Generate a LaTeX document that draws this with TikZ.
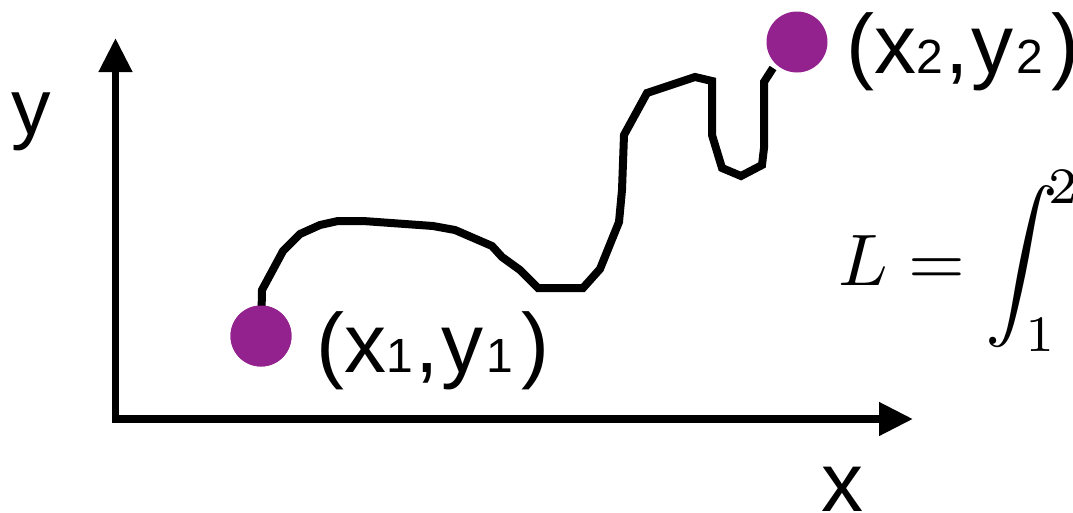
\documentclass[tikz,border=0pt]{standalone}
\usepackage{graphicx}
\usepackage{fontspec}
\setmainfont{Liberation Sans}
\usetikzlibrary{arrows.meta}
\definecolor{dotpurple}{RGB}{147,33,142}
\newcommand{\lbsub}[1]{{\fontsize{48}{48}\selectfont #1}}
\tikzset{
  axis/.style={line width=7.5pt, -{Triangle[length=34pt,width=32pt]}},
  pathline/.style={line width=8pt, line join=miter},
  endpoint/.style={circle, fill=dotpurple, minimum size=61pt, inner sep=0pt},
  lbl/.style={anchor=base west, inner sep=0pt, font=\fontsize{84}{90}\selectfont},
}
\begin{document}
\begin{tikzpicture}[x=1pt,y=-1pt]
\useasboundingbox (0,0) rectangle (1073,512);
% axes
\coordinate (ybot) at (115.5,422.75);
\coordinate (ytop) at (115.5,38);
\coordinate (xleft) at (111.75,419);
\coordinate (xright) at (913,419);
\draw[axis] (ybot) -- (ytop);
\draw[axis] (xleft) -- (xright);
% endpoints
\node[endpoint] (p1) at (261,336) {};
\node[endpoint] (p2) at (797,42) {};
\coordinate (pend) at (773,68);
% curve
\draw[pathline] (p1.center) -- (262,290) -- (283,251) -- (300,234) -- (320,225) -- (338,221)
  -- (363,221) -- (433,226) -- (455,230) -- (492,246) -- (502,257) -- (520,270)
  -- (538,288) -- (583,288) -- (600,269) -- (619,222) -- (622,190) -- (624,135)
  -- (647,93) -- (695,77) -- (712,81) -- (712,135) -- (722,168) -- (741,176)
  -- (762,165) -- (764,148) -- (764,82) -- (pend);
\node[endpoint] at (p1) {};
% labels
\node[lbl, font=\fontsize{79}{85}\selectfont] (ylab) at (11.7,134) {y};
\node[lbl] (xlab) at (821,511) {x};
\node[lbl] (l1) at (316.7,372) {(x\lbsub{1}\kern2pt,\kern3pt y\kern3pt\lbsub{1}\kern8pt)};
\node[lbl] (l2) at (846.7,73) {(x\lbsub{2}\kern2pt,\kern3pt y\kern3pt\lbsub{2}\kern8pt)};
\node[anchor=base west, inner sep=0pt] (eq) at (838,285)
  {\scalebox{7.3}{$\displaystyle L=\int_1^{\kern-1.3pt 2}$}};
\end{tikzpicture}
\end{document}
